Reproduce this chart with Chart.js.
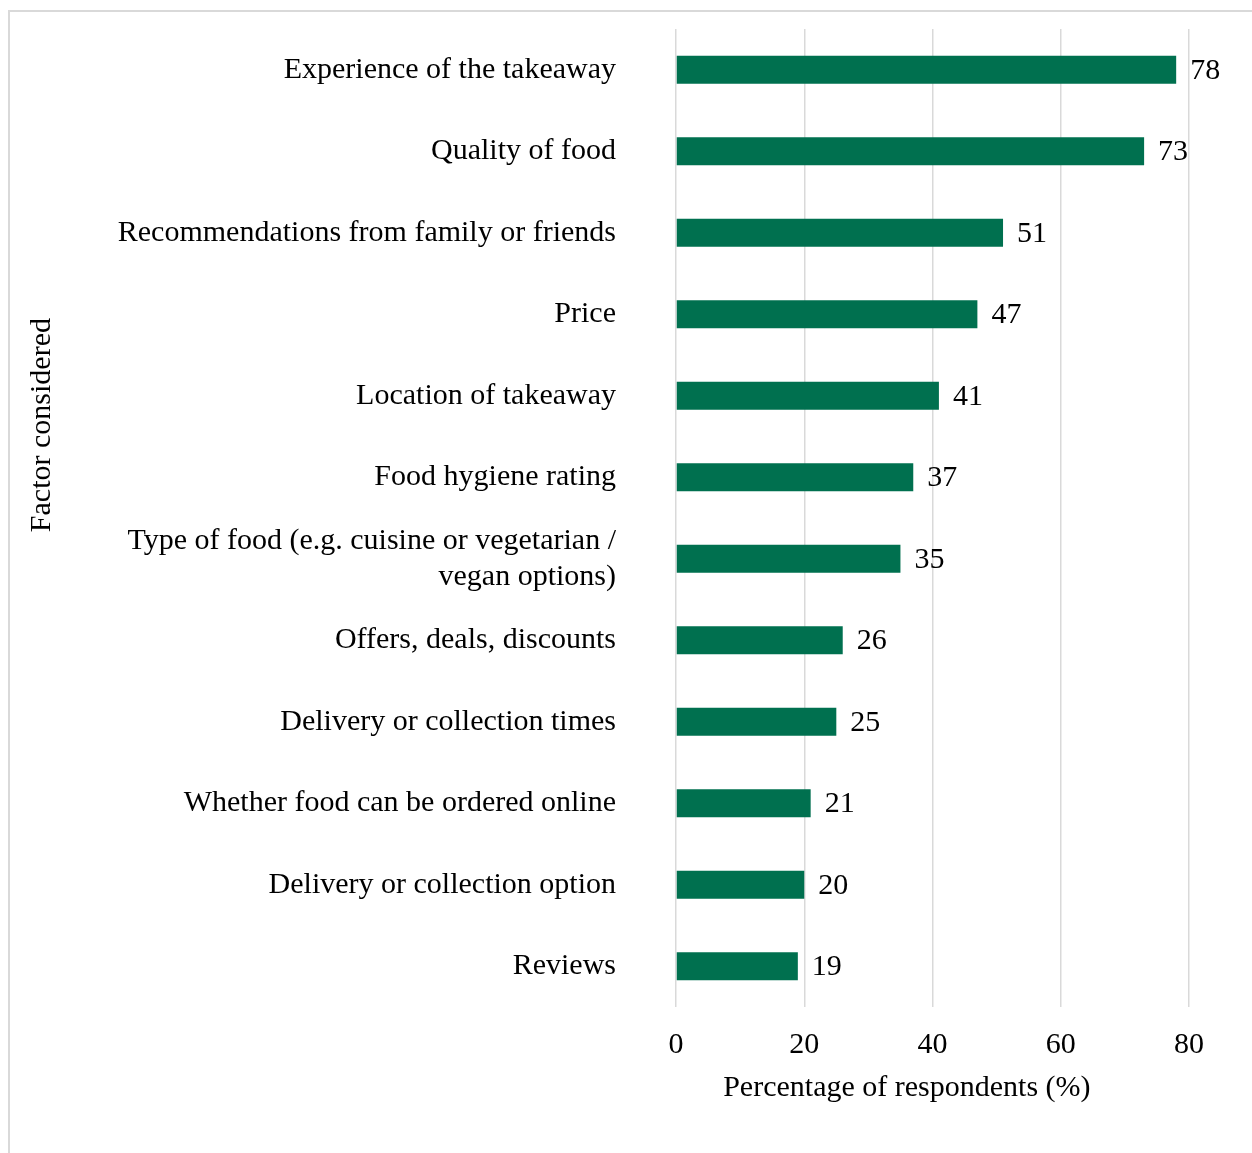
<!DOCTYPE html>
<html lang="en">
<head>
    <meta charset="UTF-8">
    <title>Factors considered when choosing a takeaway</title>
    <script src="https://cdn.jsdelivr.net/npm/chart.js"></script>
    <style>
        html, body { margin: 0; padding: 0; background: #fff; overflow: hidden; }
        #frame {
            position: absolute; left: 8px; top: 10px;
            width: 1260px; height: 1160px;
            border: 2px solid #d9d9d9; box-sizing: border-box;
        }
        #wrap { position: absolute; left: 0; top: 0; width: 1252px; height: 1153px; }
    </style>
</head>
<body>
    <div id="frame"></div>
    <div id="wrap"><canvas id="myChart"></canvas></div>

    <script>
        // dados
        const factors = [
            'Experience of the takeaway',
            'Quality of food',
            'Recommendations from family or friends',
            'Price',
            'Location of takeaway',
            'Food hygiene rating',
            ['Type of food (e.g. cuisine or vegetarian /', 'vegan options)'],
            'Offers, deals, discounts',
            'Delivery or collection times',
            'Whether food can be ordered online',
            'Delivery or collection option',
            'Reviews'
        ];
        const percentages = [78, 73, 51, 47, 41, 37, 35, 26, 25, 21, 20, 19];
        const xTicks = [0, 20, 40, 60, 80];

        const serif = '"Liberation Serif", "Times New Roman", serif';
        const green = '#00704f';

        // rótulos de valor ao lado das barras
        const valueLabels = {
            id: 'valueLabels',
            afterDatasetsDraw(chart) {
                const ctx = chart.ctx;
                const meta = chart.getDatasetMeta(0);
                ctx.save();
                ctx.font = '30px ' + serif;
                ctx.fillStyle = '#000';
                ctx.textAlign = 'left';
                ctx.textBaseline = 'middle';
                meta.data.forEach((bar, i) => {
                    ctx.fillText(String(percentages[i]), bar.x + 14, bar.y + 1);
                });
                ctx.restore();
            }
        };

        // títulos dos eixos (desenhados à parte para ficar como no original)
        const axisTitles = {
            id: 'axisTitles',
            afterDraw(chart) {
                const ctx = chart.ctx;
                const area = chart.chartArea;
                ctx.save();
                ctx.font = '30px ' + serif;
                ctx.fillStyle = '#000';
                ctx.textAlign = 'center';
                ctx.textBaseline = 'middle';
                ctx.fillText('Percentage of respondents (%)', area.left + area.width * 0.45, area.bottom + 81);
                ctx.translate(42, area.top + area.height * 0.405);
                ctx.rotate(-Math.PI / 2);
                ctx.fillText('Factor considered', 0, 0);
                ctx.restore();
            }
        };

        const ctx = document.getElementById('myChart').getContext('2d');
        const myChart = new Chart(ctx, {
            type: 'bar',
            data: {
                labels: factors,
                datasets: [{
                    label: 'Percentage of respondents (%)',
                    data: percentages,
                    backgroundColor: green,
                    borderWidth: 0,
                    categoryPercentage: 1,
                    barPercentage: 0.345
                }]
            },
            options: {
                indexAxis: 'y',
                responsive: true,
                maintainAspectRatio: false,
                animation: false,
                layout: { padding: { left: 0, right: 63, top: 29, bottom: 47 } },
                plugins: {
                    legend: { display: false },
                    tooltip: { enabled: false }
                },
                scales: {
                    x: {
                        min: 0,
                        max: 80,
                        afterBuildTicks: scale => {
                            scale.ticks = xTicks.map(v => ({ value: v }));
                        },
                        afterFit: scale => {
                            scale.height = 99;
                            scale.paddingLeft = 0;
                            scale.paddingRight = 0;
                        },
                        grid: { color: '#d9d9d9', lineWidth: 1.5, drawTicks: false },
                        border: { display: false },
                        ticks: {
                            color: '#000',
                            padding: 20,
                            font: { family: serif, size: 30 }
                        }
                    },
                    y: {
                        grid: { display: false, drawTicks: false },
                        border: { display: false },
                        afterFit: scale => {
                            scale.width = 676;
                            scale.paddingTop = 0;
                            scale.paddingBottom = 0;
                        },
                        ticks: {
                            color: '#000',
                            padding: 60,
                            autoSkip: false,
                            font: { family: serif, size: 30 }
                        }
                    }
                }
            },
            plugins: [valueLabels, axisTitles]
        });
    </script>
</body>
</html>
